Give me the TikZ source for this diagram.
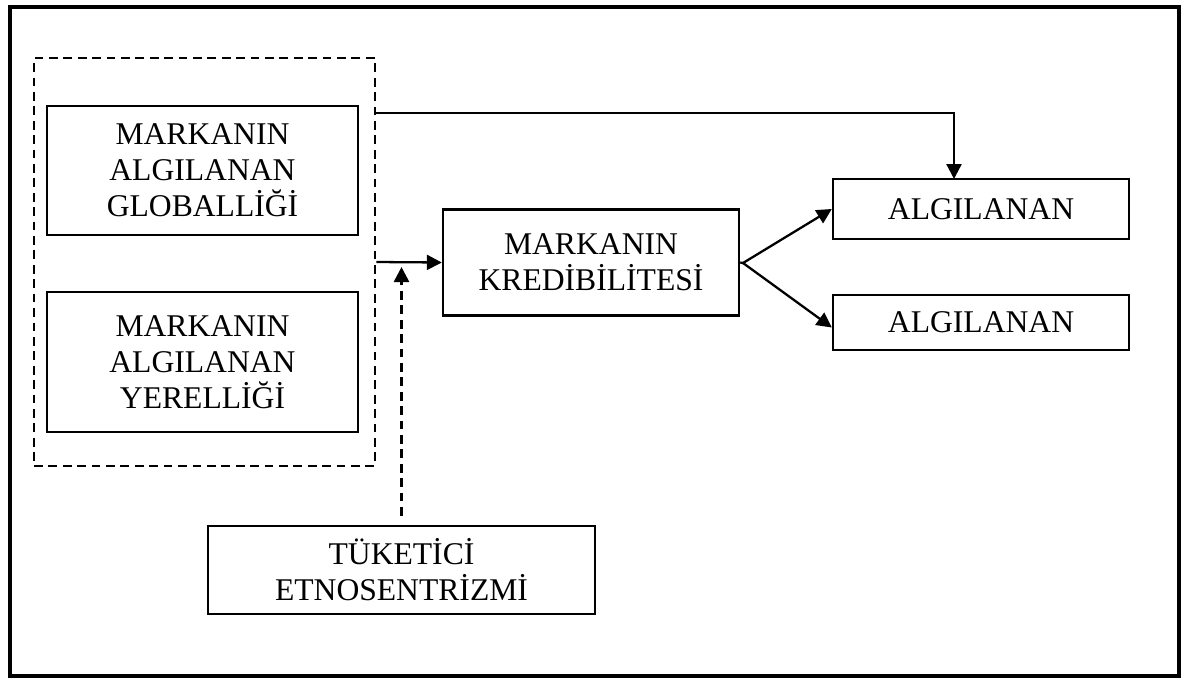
\documentclass[tikz,border=0pt]{standalone}
\usepackage{fontspec}
\setmainfont{Liberation Serif}
\usetikzlibrary{arrows.meta,calc}

\tikzset{
  kutu/.style={draw, line width=1.4pt, align=center, inner sep=0pt,
    font=\fontsize{18}{20.5}\selectfont},
  grup/.style={draw, line width=1.5pt, dash pattern=on 5pt off 3.2pt, inner sep=0pt},
  ok/.style={line width=1.3pt, -{Triangle[length=0.3cm,width=0.3cm]}}
}

\begin{document}
\begin{tikzpicture}[x=0.02cm, y=-0.02cm]
  \useasboundingbox (0,0) rectangle (1185,680);
  % outer frame
  \draw[line width=2.3pt] (10,7) rectangle (1179,676);

  % dashed group with the two brand boxes
  \node[grup, minimum width=6.82cm, minimum height=8.16cm] (grp) at (204.5,262) {};
  \node[kutu, minimum width=6.22cm, minimum height=2.58cm] (glob) at (202.5,170.5)
    {MARKANIN\\ALGILANAN\\GLOBALLİĞİ};
  \node[kutu, minimum width=6.22cm, minimum height=2.8cm] (yerel) at (202.5,362)
    {MARKANIN\\ALGILANAN\\YERELLİĞİ};

  \node[kutu, minimum width=5.92cm, minimum height=2.12cm] (kredi) at (591,262.5)
    {MARKANIN\\KREDİBİLİTESİ};
  \node[kutu, minimum width=5.92cm, minimum height=1.2cm] (alg1) at (981,209)
    {ALGILANAN};
  \node[kutu, minimum width=5.92cm, minimum height=1.1cm] (alg2) at (981,322.5)
    {ALGILANAN};
  \node[kutu, minimum width=7.74cm, minimum height=1.76cm] (tuk) at (401.5,570)
    {TÜKETİCİ\\ETNOSENTRİZMİ};

  % connectors
  \coordinate (ust) at (375,113);
  \coordinate (ustuc) at (954,179);
  \coordinate (ayrim) at (743,263);
  \coordinate (kesik) at (401.5,267);

  \draw[ok] (ust) -| (ustuc);
  \draw[ok] (grp.east) -- (kredi.west);
  \draw[ok, line width=1.5pt, dash pattern=on 5pt off 3.2pt, shorten <=0.18cm] (tuk.north) -- (kesik);
  \draw[ok] (ayrim) -- (alg1.west);
  \draw[ok] (ayrim) -- ($(alg2.west)+(0,5)$);
  \draw[line width=1.3pt] (kredi.east) -- (ayrim);
\end{tikzpicture}
\end{document}
